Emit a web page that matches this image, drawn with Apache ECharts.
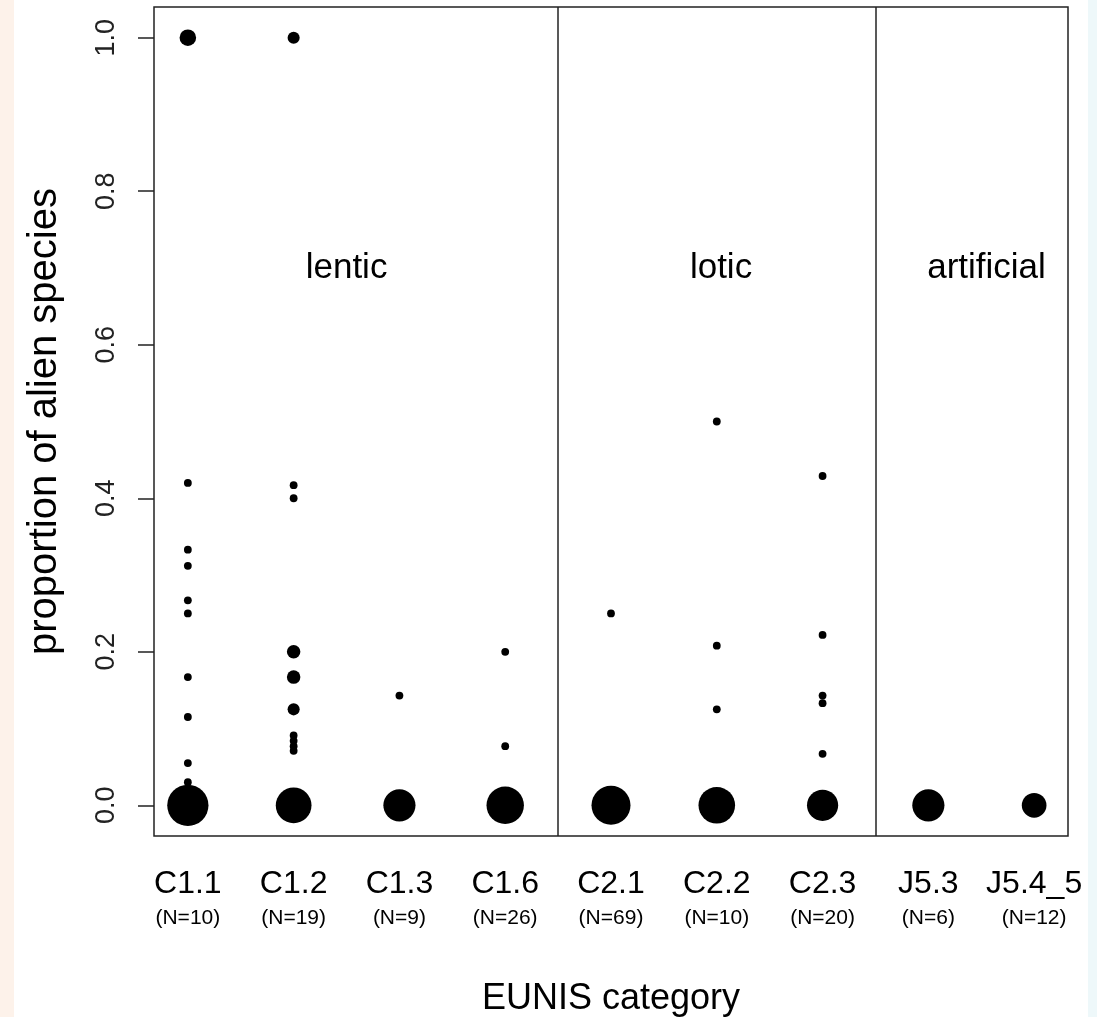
<!DOCTYPE html>
<html>
<head>
<meta charset="utf-8">
<script src="https://cdn.jsdelivr.net/npm/echarts@6/dist/echarts.min.js"></script>
<style>
  html, body { margin: 0; padding: 0; background: #fff; }
  #chart { width: 1097px; height: 1017px; }
</style>
</head>
<body>
<div id="chart"></div>
<script>
// EUNIS categories on the x axis, with number of sites under each
const categories = ["C1.1", "C1.2", "C1.3", "C1.6", "C2.1", "C2.2", "C2.3", "J5.3", "J5.4_5"];
const sampleSizes = [10, 19, 9, 26, 69, 10, 20, 6, 12];

// proportion of alien species, one list per category
const proportions = [
  [0, 0.03, 0.055, 0.115, 0.167, 0.25, 0.267, 0.312, 0.333, 0.42, 1.0],
  [0, 0.071, 0.077, 0.084, 0.091, 0.125, 0.167, 0.2, 0.4, 0.417, 1.0],
  [0, 0.143],
  [0, 0.077, 0.2],
  [0, 0.25],
  [0, 0.125, 0.208, 0.5],
  [0, 0.067, 0.133, 0.143, 0.222, 0.429],
  [0],
  [0]
];
// how many observations share each value (drives point size)
const pointCounts = [
  [28, 1, 1, 1, 1, 1, 1, 1, 1, 1, 4.5],
  [21, 1, 1, 1, 1, 2.4, 3, 3, 1, 1, 2.4],
  [17, 1],
  [23, 1, 1],
  [25, 1],
  [22, 1, 1, 1],
  [16, 1, 1, 1, 1, 1],
  [17],
  [10]
];

const yTicks = [0, 0.2, 0.4, 0.6, 0.8, 1.0];
const groupNames = ["lentic", "lotic", "artificial"];
const groupCenters = [2.5, 6.04, 8.55];
const groupLabelY = 0.7;
const groupBreaks = [4.5, 7.5];

const font = "'Liberation Sans', Arial, Helvetica, sans-serif";

var points = [];
proportions.forEach(function (vals, i) {
  vals.forEach(function (v, j) {
    points.push([i + 1, v, pointCounts[i][j]]);
  });
});

var groupPoints = groupNames.map(function (n, i) {
  return { name: n, value: [groupCenters[i], groupLabelY] };
});

var chart = echarts.init(document.getElementById("chart"));
chart.setOption({
  backgroundColor: "#fff",
  animation: false,
  // faint page decoration behind the figure
  graphic: [
    { type: "rect", z: -10, shape: { x: 0, y: 0, width: 14, height: 1017 }, style: { fill: "#fdf2ea" } },
    { type: "rect", z: -10, shape: { x: 1088, y: 0, width: 9, height: 1017 }, style: { fill: "#eef8fa" } },
  ],
  grid: {
    left: 154,
    right: 29,
    top: 7,
    bottom: 181,
    outerBoundsMode: "none",
    show: true,
    borderColor: "#222",
    borderWidth: 1.5,
  },
  xAxis: {
    type: "value",
    min: 0.68,
    max: 9.32,
    name: "EUNIS category",
    nameLocation: "middle",
    nameGap: 145,
    nameTextStyle: { fontFamily: font, fontSize: 36, color: "#000" },
    axisLine: { show: false },
    axisTick: { show: false },
    splitLine: { show: false },
    axisLabel: {
      customValues: [1, 2, 3, 4, 5, 6, 7, 8, 9],
      margin: 29,
      formatter: function (v) {
        var i = Math.round(v) - 1;
        return "{a|" + categories[i] + "}\n{b|(N=" + sampleSizes[i] + ")}";
      },
      rich: {
        a: { fontFamily: font, fontSize: 32, lineHeight: 38, color: "#000" },
        b: { fontFamily: font, fontSize: 21, lineHeight: 30, color: "#000" },
      },
    },
  },
  yAxis: {
    type: "value",
    min: -0.04,
    max: 1.04,
    name: "proportion of alien species",
    nameLocation: "middle",
    nameGap: 89,
    nameTextStyle: { fontFamily: font, fontSize: 40, color: "#000" },
    axisLine: { show: false },
    splitLine: { show: false },
    axisTick: {
      show: true,
      customValues: yTicks,
      length: 16,
      lineStyle: { color: "#222", width: 1.5 },
    },
    axisLabel: {
      customValues: yTicks,
      rotate: 90,
      margin: 34,
      fontFamily: font,
      fontSize: 27,
      color: "#222",
      formatter: function (v) {
        return v.toFixed(1);
      },
    },
  },
  series: [
    {
      type: "scatter",
      data: points,
      symbol: "circle",
      symbolSize: function (val) {
        return 7.8 * Math.sqrt(val[2]);
      },
      itemStyle: { color: "#000", opacity: 1 },
      markLine: {
        silent: true,
        symbol: "none",
        label: { show: false },
        lineStyle: { color: "#222", width: 1.5, type: "solid" },
        data: groupBreaks.map(function (b) {
          return { xAxis: b };
        }),
      },
    },
    {
      type: "scatter",
      data: groupPoints,
      symbolSize: 0,
      silent: true,
      itemStyle: { opacity: 1 },
      label: {
        show: true,
        position: "inside",
        formatter: "{b}",
        fontFamily: font,
        fontSize: 35,
        color: "#000",
        opacity: 1,
      },
    },
  ],
});
</script>
</body>
</html>
